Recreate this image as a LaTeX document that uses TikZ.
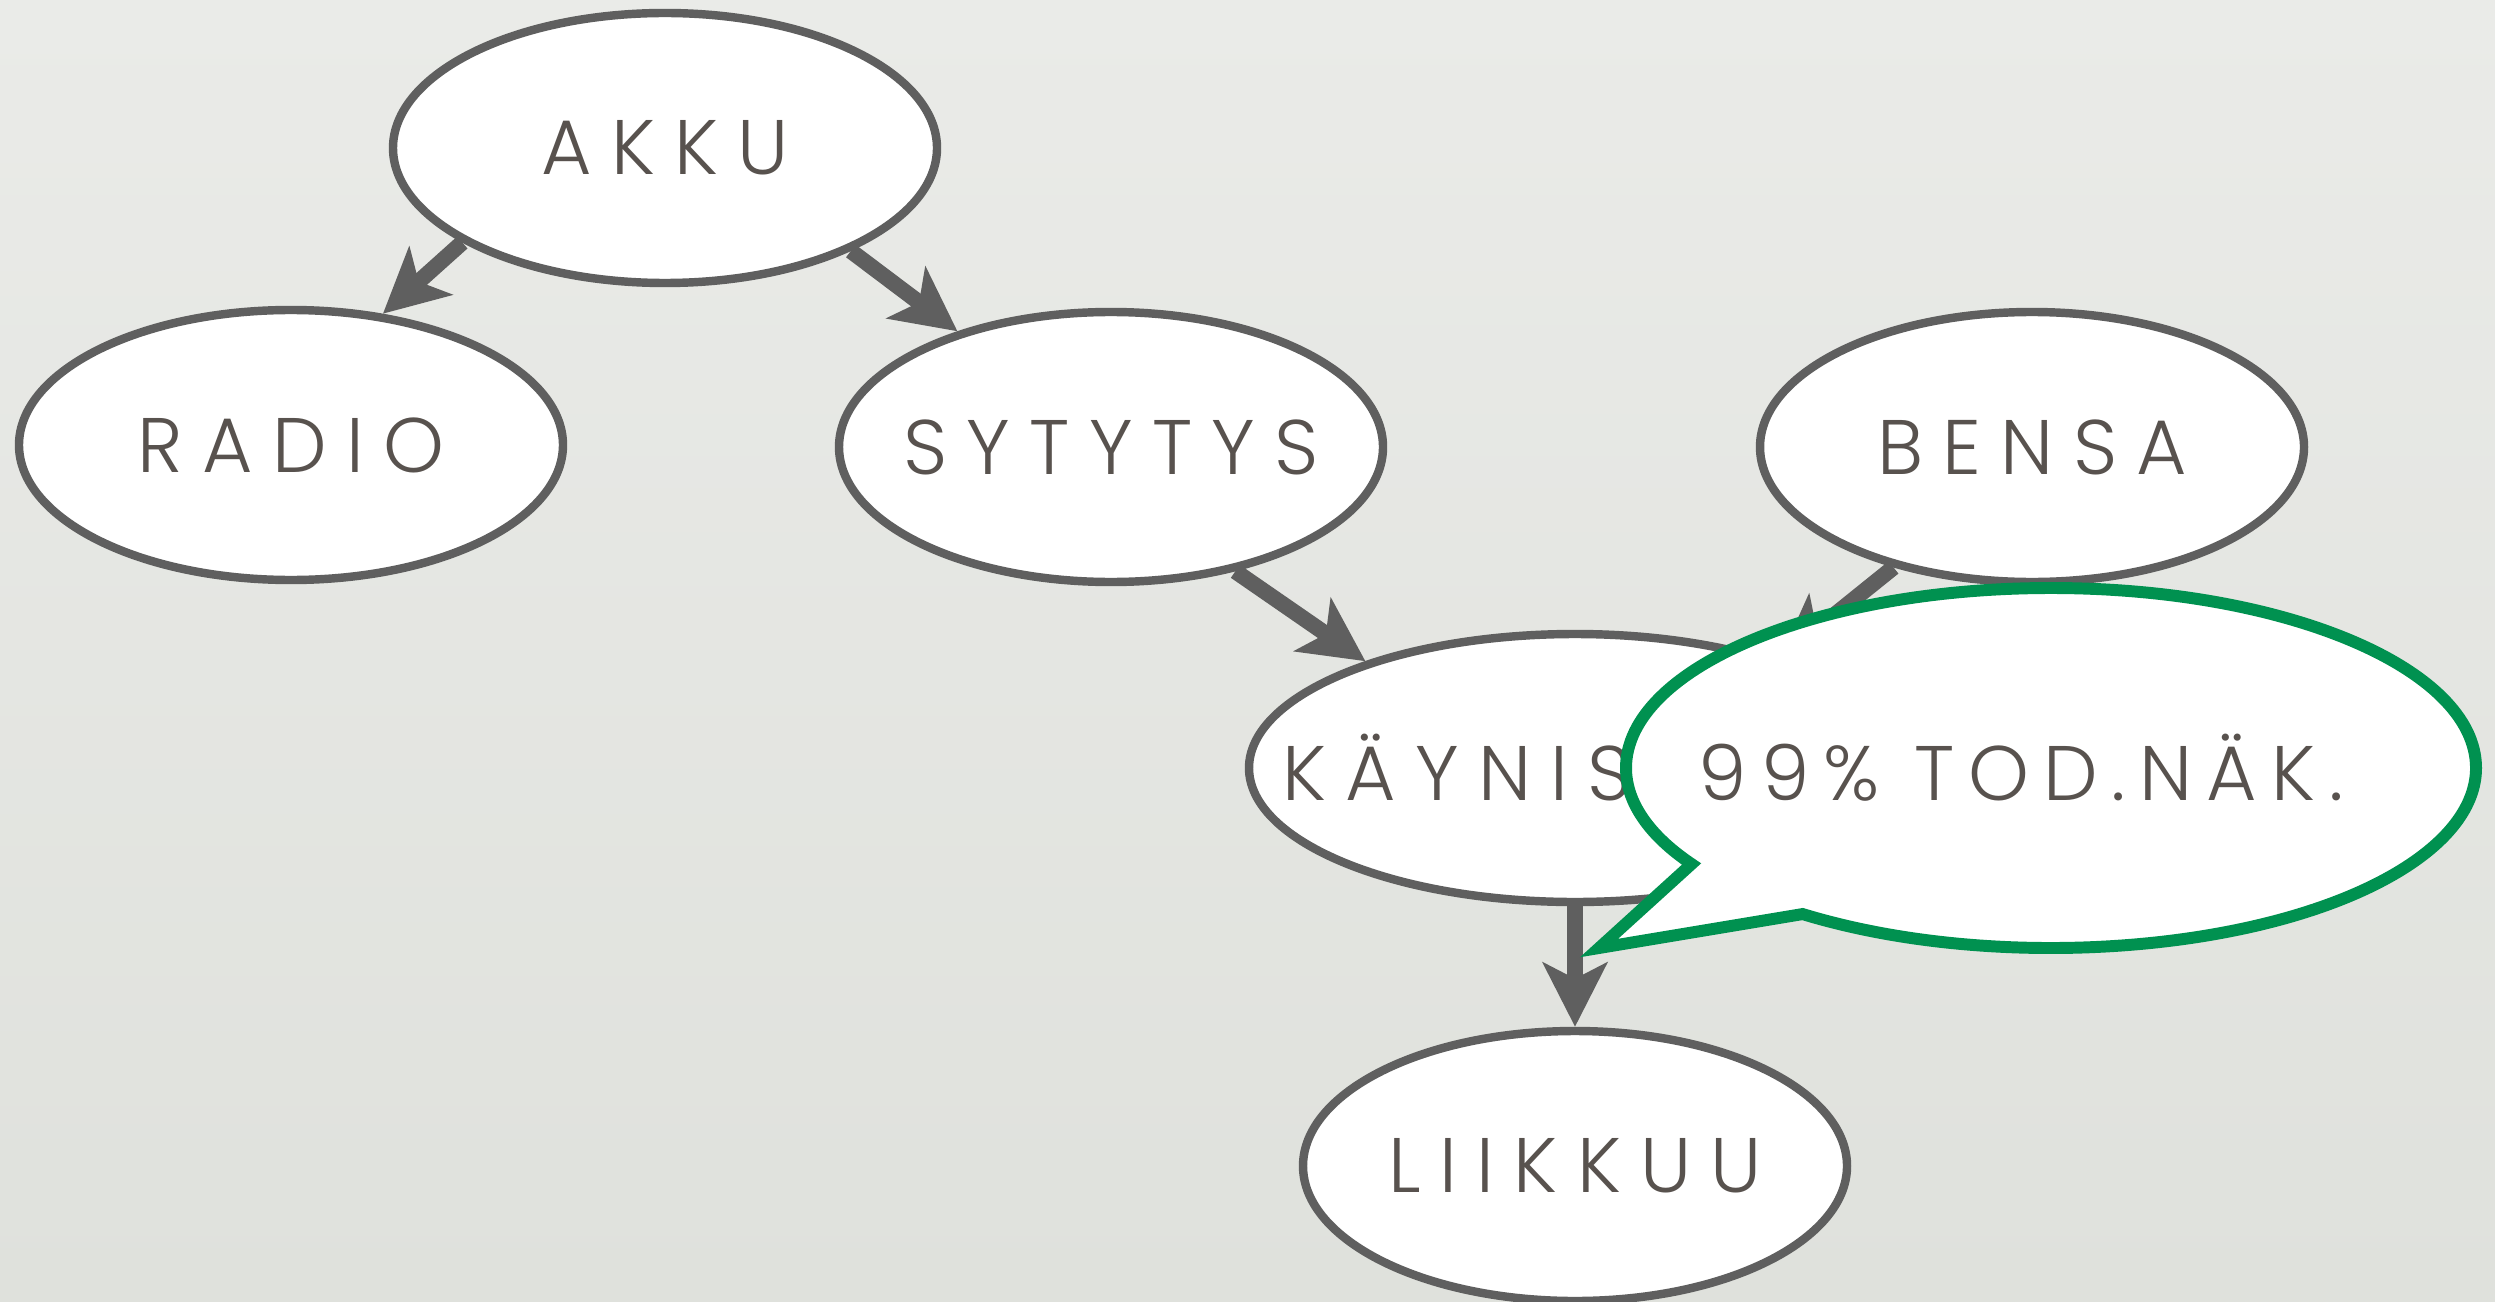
\documentclass[tikz,border=0pt]{standalone}
\usepackage{fontspec}
\setmainfont{Poppins}[UprightFont=* Light, LetterSpace=25]
\usetikzlibrary{positioning, shapes, arrows.meta}

\definecolor{edgegray}{RGB}{95,95,95}
\definecolor{inkgray}{RGB}{88,82,78}
\definecolor{bubblegreen}{RGB}{0,145,80}
\definecolor{papertop}{RGB}{234,235,232}
\definecolor{paperbottom}{RGB}{223,225,220}

% label text does not widen the ellipse
\newcommand{\lbl}[1]{\makebox[0pt]{#1}}

\tikzset{
  var/.style={ellipse, draw=edgegray, line width=2.4pt, fill=white, text=inkgray,
    minimum width=5.44cm, minimum height=2.7cm, inner sep=0pt,
    font=\fontsize{22}{26}\selectfont},
  dep/.style={draw=edgegray, line width=4.5pt,
    -{Stealth[length=0.64cm, width=0.64cm, inset=0.16cm]}},
  bubble/.style={ellipse callout, draw=bubblegreen, line width=3.4pt, fill=white,
    text=inkgray, minimum width=8.5cm, minimum height=3.6cm, inner sep=0pt,
    callout pointer arc=22,
    font=\fontsize{22}{26}\selectfont\addfontfeature{LetterSpace=18}}
}

\begin{document}
\begin{tikzpicture}[on grid]
\shade[top color=papertop, bottom color=paperbottom] (0,0) rectangle (24.95,13.01);
\useasboundingbox (0,0) rectangle (24.95,13.01);

\node[var] (akku) at (6.65,11.53) {\lbl{AKKU}};
\node[var, below left = 2.97cm and 3.74cm of akku] (radio) {\lbl{RADIO}};
\node[var, below right = 2.99cm and 4.46cm of akku] (sytytys) {\lbl{SYTYTYS}};
\node[var, right = 9.21cm of sytytys] (bensa) {\lbl{BENSA}};
\node[var, below right = 3.21cm and 4.64cm of sytytys, minimum width=6.52cm, minimum height=2.68cm] (kaynis) {\lbl{KÄYNISTYY\hspace{0.5cm}}};
\node[var, below = 3.98cm of kaynis] (liikkuu) {\lbl{LIIKKUU}};
\coordinate[below right = 1.80cm and 0.24cm of kaynis] (tip);

\path (akku.205) edge[dep] (radio.55);
\path (akku.331) edge[dep] (sytytys.143);
\path (sytytys.315) edge[dep] (kaynis.153);
\path (bensa.221) edge[dep] (kaynis.28);
\path (kaynis.south) edge[dep] (liikkuu.north);

% speech bubble over the start node
\node[bubble, callout absolute pointer={(tip)}, right = 4.76cm of kaynis] (note) {\lbl{99\% TOD.NÄK.\hspace{0.6cm}}};
\end{tikzpicture}
\end{document}
